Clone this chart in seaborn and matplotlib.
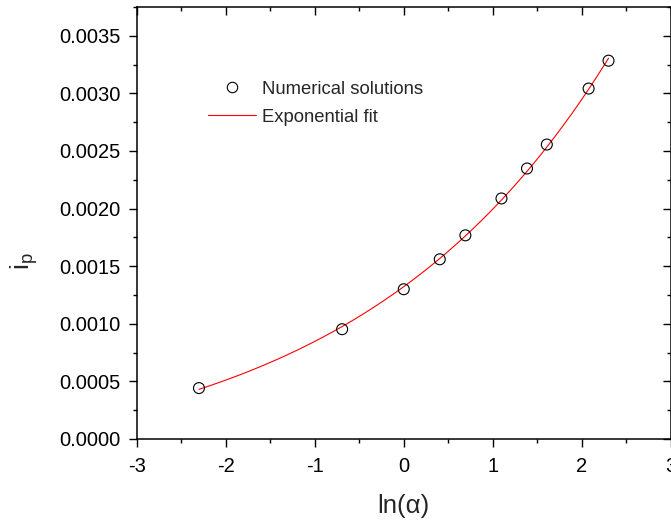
import numpy as np
import pandas as pd
import matplotlib
matplotlib.use("Agg")
import matplotlib.pyplot as plt
from matplotlib.ticker import MultipleLocator, FormatStrFormatter
from matplotlib.lines import Line2D
import seaborn as sns

# Data
ln_alpha = [-2.303, -0.693, 0.0, 0.405, 0.693, 1.099, 1.386, 1.609, 2.079, 2.303]
i_p = [0.000442, 0.000953, 0.00130, 0.00156, 0.001768, 0.002088, 0.002348, 0.002556, 0.003042, 0.003284]

x_ticks = [-3, -2, -1, 0, 1, 2, 3]
y_ticks = [0.0, 0.0005, 0.0010, 0.0015, 0.0020, 0.0025, 0.0030, 0.0035]

sns.set_theme(style="ticks")
plt.rcParams['font.family'] = ['Liberation Sans', 'DejaVu Sans']
plt.rcParams['mathtext.fontset'] = 'custom'
plt.rcParams['mathtext.rm'] = 'Liberation Sans'
plt.rcParams['mathtext.it'] = 'Liberation Sans'

x = np.array(ln_alpha)
y = np.array(i_p)

# Exponential fit y = c + A*exp(b*x), fitted to the data
best = None
for c in np.linspace(-0.003, 0.0004, 3401):
    z = np.log(y - c)
    b, lnA = np.polyfit(x, z, 1)
    pred = c + np.exp(lnA + b * x)
    err = np.sum((pred - y) ** 2)
    if best is None or err < best[0]:
        best = (err, c, b, lnA)
_, c, b, lnA = best
xf = np.linspace(x.min(), x.max(), 200)
yf = c + np.exp(lnA + b * xf)

df = pd.DataFrame({"x": x, "y": y})
dff = pd.DataFrame({"x": xf, "y": yf})

fig = plt.figure(figsize=(6.71, 5.20), dpi=100)
ax = fig.add_axes([137/671, 1 - 439/520, 533.5/671, 432/520])

sns.lineplot(data=dff, x="x", y="y", ax=ax, color="red", linewidth=0.8, zorder=2)
sns.scatterplot(data=df, x="x", y="y", ax=ax, marker="o", s=62, facecolor="none",
                edgecolor="black", linewidth=0.8, zorder=3)

ax.set_xlim(-3, 3)
ax.set_ylim(0, 0.00375)
ax.set_xticks(x_ticks)
ax.set_yticks(y_ticks)
ax.xaxis.set_minor_locator(MultipleLocator(0.5))
ax.yaxis.set_minor_locator(MultipleLocator(0.00025))
ax.yaxis.set_major_formatter(FormatStrFormatter('%.4f'))
ax.set_xticklabels([str(v) for v in x_ticks])

for side in ['left', 'bottom', 'top', 'right']:
    ax.spines[side].set_visible(True)
    ax.spines[side].set_color('black')
    ax.spines[side].set_linewidth(1.1)

ax.tick_params(which='major', direction='out', length=6, width=1.0, labelsize=14.5,
               color='black', labelcolor='black')
ax.tick_params(axis='x', which='major', pad=7)
ax.tick_params(axis='y', which='major', pad=6)
ax.tick_params(which='minor', direction='out', length=3, width=1.0, color='black')
ax.tick_params(which='both', top=True, right=True)
# top/right ticks point inward
for t in ax.xaxis.get_major_ticks() + ax.xaxis.get_minor_ticks():
    t.tick2line.set_marker(3)
for t in ax.yaxis.get_major_ticks() + ax.yaxis.get_minor_ticks():
    t.tick2line.set_marker(0)

ax.set_xlabel('ln(α)', fontsize=18.5, labelpad=13)
ax.set_ylabel(r'$\mathregular{i_p}$', fontsize=19)
ax.yaxis.set_label_coords(-0.182, 0.412)

handles = [
    Line2D([], [], marker='o', linestyle='none', markersize=7.5, markerfacecolor='none',
           markeredgecolor='black', markeredgewidth=0.8),
    Line2D([], [], color='red', linewidth=0.8),
]
ax.legend(handles, ['Numerical solutions', 'Exponential fit'], loc='upper left',
          bbox_to_anchor=(0.133, 0.829), frameon=False, fontsize=13.3,
          handlelength=2.6, handletextpad=0.32, labelspacing=0.58,
          borderpad=0, borderaxespad=0)

fig.savefig("out.png", dpi=100)
